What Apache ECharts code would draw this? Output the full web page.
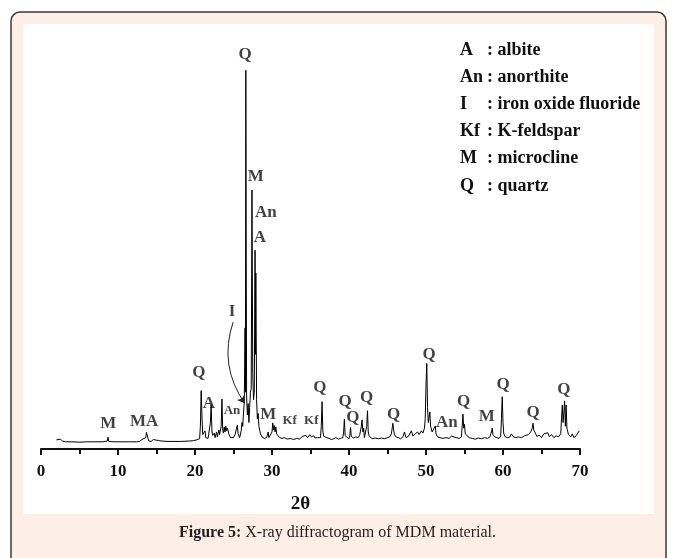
<!DOCTYPE html>
<html>
<head>
<meta charset="utf-8">
<script src="https://cdn.jsdelivr.net/npm/echarts@6/dist/echarts.min.js"></script>
<style>
  html, body { margin: 0; padding: 0; background: #fff; }
  #chart { width: 675px; height: 558px; }
</style>
</head>
<body>
<div id="chart"></div>
<script>
// diffractogram, [2theta, intensity] (intensity in arbitrary units)
var profile = [
  [2.0, 24], [2.2, 28], [2.5, 26], [2.8, 21], [3.2, 19], [4.0, 19], [5.0, 18], [6.0, 19],
  [6.9, 19], [7.0, 24], [7.1, 19], [8.0, 19], [8.6, 21], [8.7, 31], [8.8, 20], [9.5, 19],
  [10.5, 19], [11.5, 19], [12.4, 19], [12.6, 23], [12.8, 20], [13.1, 25], [13.3, 21],
  [13.6, 30], [13.7, 44], [13.8, 47], [13.9, 28], [14.0, 21], [14.3, 20], [14.6, 25],
  [14.8, 21], [15.3, 22], [15.5, 25], [15.7, 21], [16.5, 20], [17.8, 20], [18.0, 23],
  [18.2, 20], [19.2, 21], [19.4, 23], [19.8, 22], [20.2, 24], [20.6, 27], [20.7, 60],
  [20.8, 154], [20.9, 90], [21.0, 38], [21.1, 34], [21.3, 48], [21.4, 30], [21.7, 28],
  [21.9, 32], [22.0, 70], [22.1, 118], [22.2, 45], [22.3, 36], [22.5, 42], [22.6, 30],
  [22.8, 45], [22.9, 32], [23.1, 50], [23.2, 38], [23.4, 60], [23.5, 132], [23.6, 50],
  [23.7, 42], [23.8, 58], [23.9, 45], [24.0, 60], [24.1, 48], [24.2, 55], [24.4, 40],
  [24.6, 30], [24.8, 32], [25.0, 30], [25.2, 38], [25.4, 55], [25.5, 63], [25.6, 40],
  [25.8, 30], [26.0, 48], [26.1, 70], [26.2, 60], [26.3, 95], [26.4, 125], [26.5, 320],
  [26.55, 150], [26.6, 1000], [26.7, 140], [26.8, 90], [26.9, 120], [27.0, 70], [27.1, 110],
  [27.2, 150], [27.3, 160], [27.4, 684], [27.5, 200], [27.6, 130], [27.7, 150], [27.8, 525],
  [27.85, 250], [27.9, 465], [28.0, 130], [28.1, 80], [28.2, 94], [28.3, 60], [28.5, 40],
  [28.7, 32], [29.0, 28], [29.3, 30], [29.5, 45], [29.6, 30], [29.8, 28], [30.0, 45],
  [30.1, 69], [30.2, 50], [30.3, 62], [30.4, 45], [30.5, 58], [30.6, 40], [30.8, 35],
  [31.0, 30], [31.3, 28], [31.6, 30], [32.0, 26], [32.4, 28], [32.8, 25], [33.2, 28],
  [33.6, 26], [33.9, 33], [34.1, 29], [34.4, 36], [34.6, 30], [34.9, 38], [35.1, 32],
  [35.4, 35], [35.6, 29], [35.9, 30], [36.1, 28], [36.3, 30], [36.4, 60], [36.5, 125],
  [36.6, 50], [36.7, 34], [36.9, 38], [37.1, 30], [37.4, 28], [37.7, 25], [38.0, 27],
  [38.3, 30], [38.6, 26], [38.9, 28], [39.2, 30], [39.3, 45], [39.4, 79], [39.5, 35],
  [39.7, 30], [40.0, 27], [40.1, 35], [40.2, 57], [40.3, 33], [40.6, 29], [40.9, 32],
  [41.2, 30], [41.4, 38], [41.6, 60], [41.7, 77], [41.8, 45], [41.9, 55], [42.0, 30],
  [42.2, 33], [42.3, 60], [42.4, 101], [42.5, 45], [42.6, 36], [42.8, 30], [43.1, 27],
  [43.4, 29], [43.8, 27], [44.2, 29], [44.6, 27], [45.0, 30], [45.3, 32], [45.5, 40],
  [45.7, 68], [45.8, 50], [45.9, 38], [46.1, 32], [46.4, 30], [46.7, 27], [47.0, 32],
  [47.2, 45], [47.4, 30], [47.7, 33], [47.9, 36], [48.1, 48], [48.3, 34], [48.6, 40],
  [48.9, 45], [49.1, 38], [49.4, 48], [49.6, 42], [49.8, 55], [49.9, 80], [50.0, 169],
  [50.1, 226], [50.2, 110], [50.3, 70], [50.5, 98], [50.6, 60], [50.8, 45], [51.0, 50],
  [51.2, 61], [51.3, 40], [51.5, 32], [51.8, 30], [52.2, 28], [52.6, 30], [53.0, 28],
  [53.3, 34], [53.5, 29], [53.9, 30], [54.3, 28], [54.6, 32], [54.7, 60], [54.8, 92],
  [54.9, 55], [55.0, 65], [55.1, 40], [55.3, 38], [55.6, 30], [56.0, 28], [56.4, 26],
  [56.8, 29], [57.2, 27], [57.6, 30], [58.0, 28], [58.3, 32], [58.5, 45], [58.6, 55],
  [58.7, 38], [58.9, 32], [59.2, 30], [59.5, 28], [59.7, 34], [59.8, 80], [59.9, 138],
  [60.0, 70], [60.1, 40], [60.3, 32], [60.6, 30], [60.9, 32], [61.1, 40], [61.3, 33],
  [61.6, 30], [62.0, 32], [62.4, 30], [62.8, 35], [63.0, 32], [63.3, 38], [63.6, 45],
  [63.8, 55], [63.9, 68], [64.0, 50], [64.2, 42], [64.4, 33], [64.7, 37], [65.0, 30],
  [65.3, 40], [65.5, 35], [65.8, 43], [66.0, 33], [66.3, 38], [66.6, 30], [66.9, 35],
  [67.2, 32], [67.5, 40], [67.6, 80], [67.7, 116], [67.8, 70], [67.9, 95], [68.0, 127],
  [68.1, 60], [68.2, 116], [68.3, 55], [68.5, 38], [68.8, 32], [69.0, 40], [69.2, 30],
  [69.5, 35], [69.7, 40], [69.9, 48]
];

// phase tags above peaks: [2theta, intensity, tag]
var peakTags = [
  [26.5, 1041, "Q"], [27.9, 718, "M"], [29.2, 623, "An"], [28.44, 557, "A"], [24.8, 364, "I"],
  [20.5, 203, "Q"], [21.8, 119, "A"], [24.8, 100, "An"], [29.5, 92, "M"],
  [32.3, 74, "Kf"], [35.1, 74, "Kf"], [8.74, 66, "M"], [13.4, 72, "MA"],
  [36.2, 163, "Q"], [39.5, 124, "Q"], [40.5, 82, "Q"], [42.3, 135, "Q"], [45.8, 90, "Q"],
  [50.4, 248, "Q"], [52.7, 71, "An"], [54.9, 124, "Q"], [57.9, 85, "M"], [60.0, 169, "Q"],
  [63.9, 95, "Q"], [67.9, 158, "Q"]
];
var smallTags = [7, 9, 10]; // indexes of the smaller tags

// pointer from the "I" tag down to its peak
var pointerI = [[24.95, 335], [26.45, 121]];

var phaseKeys = ["A", "An", "I", "Kf", "M", "Q"];
var phaseNames = ["albite", "anorthite", "iron oxide fluoride", "K-feldspar", "microcline", "quartz"];

var xTicks = [0, 10, 20, 30, 40, 50, 60, 70];

var serif = "'Liberation Serif', 'Times New Roman', serif";
var myChart = echarts.init(document.getElementById("chart"));

var legendItems = [];
phaseKeys.forEach(function (k, i) {
  legendItems.push({
    type: "text", left: 460, top: 41 + i * 27.2, z: 10,
    style: { text: k, font: "bold 18px " + serif, fill: "#111" }
  });
  legendItems.push({
    type: "text", left: 487, top: 41 + i * 27.2, z: 10,
    style: { text: ": " + phaseNames[i], font: "bold 18px " + serif, fill: "#111" }
  });
});

var option = {
  animation: false,
  backgroundColor: "#fff",
  grid: { left: 41, right: 95, top: 40, bottom: 109 },
  xAxis: {
    type: "value",
    min: 0,
    max: 70,
    interval: 10,
    name: "2θ",
    nameLocation: "middle",
    nameGap: 46,
    nameTextStyle: { fontFamily: serif, fontWeight: "bold", fontSize: 19, color: "#111", padding: [0, 20, 0, 0] },
    axisLine: { lineStyle: { color: "#111", width: 2 } },
    axisTick: { length: 6, lineStyle: { color: "#111", width: 2 } },
    minorTick: { show: true, splitNumber: 2, length: 5, lineStyle: { color: "#111", width: 2 } },
    axisLabel: {
      margin: 14, fontFamily: serif, fontWeight: "bold", fontSize: 17, color: "#111",
      formatter: function (v) { return xTicks.indexOf(v) >= 0 ? String(v) : ""; }
    },
    splitLine: { show: false }
  },
  yAxis: { type: "value", min: 0, max: 1080, show: false },
  graphic: [
    {
      type: "rect", z: -10,
      shape: { x: 11, y: 12, width: 655, height: 600, r: 9 },
      style: { fill: "#fdeee6", stroke: "#3a3a3a", lineWidth: 1.5 }
    },
    {
      type: "rect", z: -9,
      shape: { x: 23, y: 24, width: 631, height: 490 },
      style: { fill: "#ffffff" }
    },
    {
      type: "text", left: "center", top: 525, z: 10,
      style: {
        text: "{b|Figure 5:} X-ray diffractogram of MDM material.",
        font: "16px " + serif, fill: "#231f20",
        rich: { b: { fontWeight: "bold", fontSize: 16, fontFamily: serif, fill: "#231f20" } }
      }
    }
  ].concat(legendItems),
  series: [
    {
      type: "line",
      data: profile,
      showSymbol: false,
      lineStyle: { color: "#000", width: 1 },
      z: 3
    },
    {
      type: "scatter",
      clip: false,
      symbolSize: 0,
      itemStyle: { color: "transparent" },
      data: peakTags.map(function (p, i) {
        return {
          value: [p[0], p[1]],
          label: { fontSize: smallTags.indexOf(i) >= 0 ? 13 : 17 },
          name: p[2]
        };
      }),
      label: {
        show: true, position: "inside", formatter: "{b}",
        fontFamily: serif, fontWeight: "bold", color: "#111"
      },
      z: 5
    },
    {
      type: "lines",
      coordinateSystem: "cartesian2d",
      symbol: ["none", "arrow"],
      symbolSize: 7,
      lineStyle: { color: "#222", width: 1, curveness: -0.25, opacity: 1 },
      data: [{ coords: pointerI }],
      z: 4
    }
  ]
};

myChart.setOption(option);
window.addEventListener("resize", function () { myChart.resize(); });
</script>
</body>
</html>
